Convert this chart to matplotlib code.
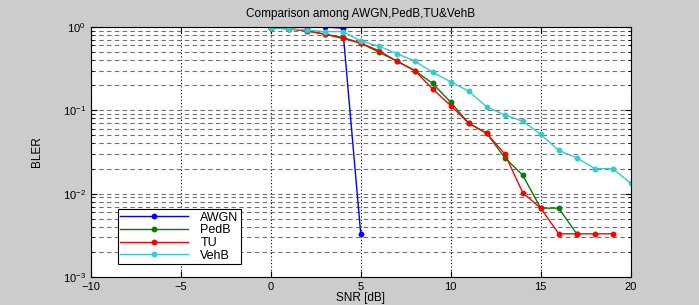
import numpy as np
import matplotlib
matplotlib.use("Agg")
from matplotlib import pyplot as plt
from matplotlib.ticker import LogLocator, NullFormatter

plt.rcParams["font.family"] = ["Liberation Sans", "DejaVu Sans"]

# BLER vs SNR
snr_awgn = [0, 1, 2, 3, 4, 5]
bler_awgn = [1.0, 1.0, 1.0, 1.0, 0.97, 0.0033]

snr_pedb = [0, 1, 2, 3, 4, 5, 6, 7, 8, 9, 10, 11, 12, 13, 14, 15, 16, 17]
bler_pedb = [0.98, 0.95, 0.9, 0.82, 0.75, 0.64, 0.5, 0.39, 0.3, 0.21, 0.125,
             0.07, 0.053, 0.027, 0.0167, 0.0067, 0.0067, 0.0033]

snr_tu = [0, 1, 2, 3, 4, 5, 6, 7, 8, 9, 10, 11, 12, 13, 14, 15, 16, 17, 18, 19]
bler_tu = [0.98, 0.95, 0.9, 0.82, 0.73, 0.64, 0.52, 0.39, 0.3, 0.18, 0.114,
           0.07, 0.053, 0.03, 0.0103, 0.0067, 0.0033, 0.0033, 0.0033, 0.0033]

snr_vehb = [0, 1, 2, 3, 4, 5, 6, 7, 8, 9, 10, 11, 12, 13, 14, 15, 16, 17, 18, 19, 20]
bler_vehb = [0.98, 0.95, 0.92, 0.88, 0.88, 0.68, 0.59, 0.48, 0.39, 0.286, 0.22,
             0.17, 0.11, 0.088, 0.074, 0.0515, 0.033, 0.027, 0.02, 0.02, 0.0133]

fig = plt.figure(figsize=(6.99, 3.05), dpi=100, facecolor="#cccccc")
ax = fig.add_axes([0.1298, 0.0918, 0.7725, 0.8197])
ax.set_facecolor("white")

ax.semilogy(snr_awgn, bler_awgn, color="#0000ff", marker="o", ms=3.2, lw=1, label="AWGN")
ax.semilogy(snr_pedb, bler_pedb, color="#008000", marker="o", ms=3.2, lw=1, label="PedB")
ax.semilogy(snr_tu, bler_tu, color="#ff0000", marker="o", ms=3.2, lw=1, label="TU")
ax.semilogy(snr_vehb, bler_vehb, color="#33cccc", marker="o", ms=3.2, lw=1, label="VehB")

ax.set_xlim(-10, 20)
ax.set_ylim(1e-3, 1)
ax.set_xticks([-10, -5, 0, 5, 10, 15, 20])
ax.yaxis.set_major_locator(LogLocator(base=10, numticks=10))
ax.yaxis.set_minor_locator(LogLocator(base=10, subs=np.arange(2, 10), numticks=20))
ax.yaxis.set_minor_formatter(NullFormatter())

ax.grid(True, which="major", axis="x", color="black", ls=(0, (1, 2)), lw=0.8)
ax.grid(True, which="both", axis="y", color="#707070", ls=(0, (4, 3)), lw=0.8)

ax.tick_params(which="both", direction="in", top=True, right=True, labelsize=8)
ax.tick_params(which="major", length=4)
ax.tick_params(which="minor", length=2)

ax.set_title("Comparison among AWGN,PedB,TU&VehB", fontsize=8.5, pad=7)
ax.set_xlabel("SNR [dB]", fontsize=8.5, labelpad=0)
ax.set_ylabel("BLER", fontsize=8.5, labelpad=14)

leg = ax.legend(loc="lower left", bbox_to_anchor=(0.05, 0.052), fontsize=9,
                fancybox=False, framealpha=1, edgecolor="black",
                handlelength=5.4, handletextpad=1.0, borderpad=0.2,
                labelspacing=0.05, borderaxespad=0)
leg.get_frame().set_linewidth(0.8)

fig.savefig("out.png", dpi=100, facecolor=fig.get_facecolor())
